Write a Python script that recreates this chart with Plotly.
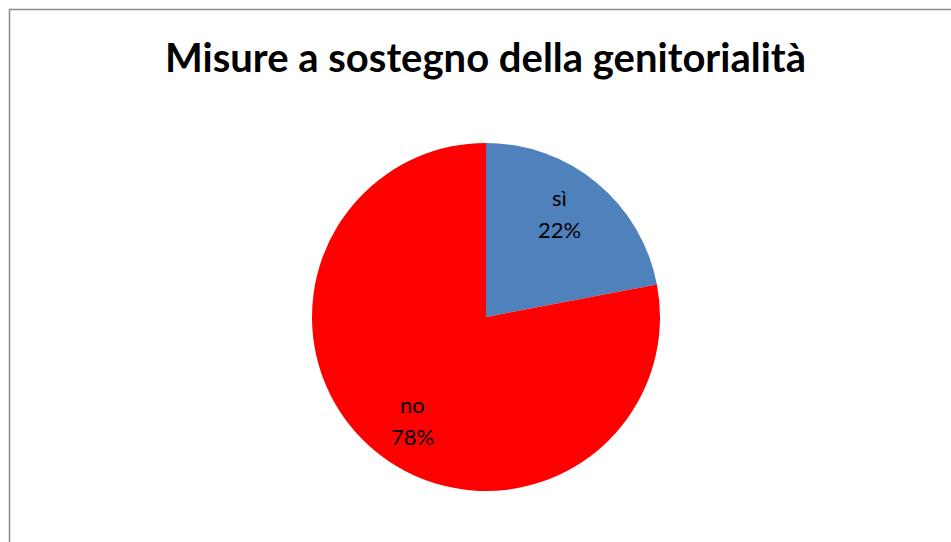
import math
import plotly.graph_objects as go

# Survey answers: parenting-support measures
labels = ["sì", "no"]
values = [22, 78]
colors = ["#4F81BD", "#FF0000"]
title_text = "Misure a sostegno della genitorialità"

W, H = 951, 542
cx, cy, r = 486, 317, 174  # pie centre and radius in pixels

fig = go.Figure()
fig.add_trace(go.Pie(
    labels=labels,
    values=values,
    sort=False,
    direction="clockwise",
    rotation=0,
    marker=dict(colors=colors, line=dict(width=0)),
    textinfo="none",
    hoverinfo="label+percent",
    showlegend=False,
    domain=dict(x=[(cx - r) / W, (cx + r) / W],
                y=[1 - (cy + r) / H, 1 - (cy - r) / H]),
))

# Data labels placed near each slice's mid-angle
total = sum(values)
start = 0.0
annotations = []
for lab, val in zip(labels, values):
    frac = val / total
    mid = (start + frac / 2) * 2 * math.pi - math.radians(4)
    start += frac
    rr = 0.73 * r
    px = cx + rr * math.sin(mid)
    py = cy - rr * math.cos(mid)
    pct = f"{round(frac * 100)}%"
    for txt, dy in ((lab, -16), (pct, 16)):
        annotations.append(dict(x=px / W, y=1 - (py + dy) / H,
                                xref="paper", yref="paper",
                                xanchor="center", yanchor="middle",
                                text=txt, showarrow=False,
                                font=dict(family="Lato", size=22, color="#000000")))

annotations.append(dict(x=485 / W, y=1 - 57 / H, xref="paper", yref="paper",
                        text=f"<b>{title_text}</b>", showarrow=False,
                        xanchor="center", yanchor="middle",
                        font=dict(family="Lato", size=40, color="#000000")))

fig.update_layout(
    width=W, height=H,
    margin=dict(l=0, r=0, t=0, b=0),
    paper_bgcolor="#FFFFFF",
    plot_bgcolor="#FFFFFF",
    annotations=annotations,
    shapes=[dict(type="rect", xref="paper", yref="paper",
                 x0=9.5 / W, x1=1.05, y0=-0.05, y1=1 - 9.5 / H,
                 line=dict(color="#8C8C8C", width=1.5),
                 fillcolor="rgba(0,0,0,0)", layer="above")],
)

fig.write_html("out.html")
